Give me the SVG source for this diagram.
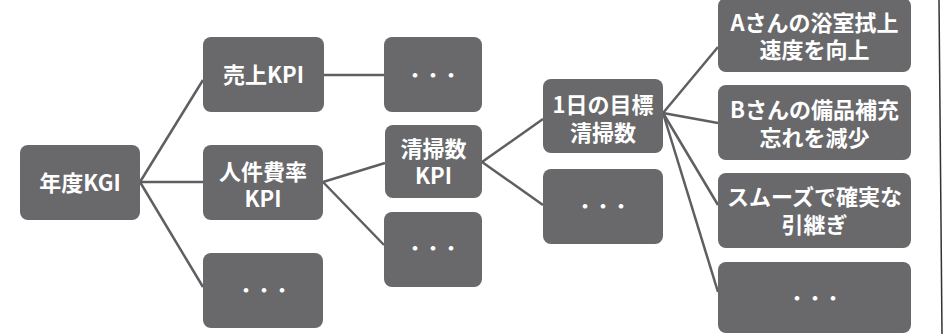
<svg xmlns="http://www.w3.org/2000/svg" width="944" height="334" viewBox="0 0 944 334">
<style>
.box{fill:#69696c}
.t{fill:#fff;font-family:"Noto Sans CJK JP","Noto Sans",sans-serif;font-weight:700;font-size:22px;text-anchor:middle}
.d{fill:#fff;font-family:"Noto Sans CJK JP",sans-serif;font-weight:700;font-size:18px;text-anchor:middle}
.c line{stroke:#5f5f62;stroke-width:2.5;fill:none}
</style>
<rect width="944" height="334" fill="#fff"/>
<line x1="939" y1="0" x2="942" y2="334" stroke="#333" stroke-width="1.5"/>
<g class="c" id="connectors">
<line x1="140" y1="182" x2="203" y2="80"/>
<line x1="140" y1="182" x2="203" y2="182"/>
<line x1="140" y1="182" x2="203" y2="287"/>
<line x1="324" y1="75" x2="384" y2="75"/>
<line x1="323" y1="182" x2="385" y2="163"/>
<line x1="323" y1="182" x2="384" y2="245"/>
<line x1="482" y1="162" x2="543" y2="119"/>
<line x1="482" y1="162" x2="543" y2="205"/>
<line x1="663" y1="113" x2="718" y2="47"/>
<line x1="663" y1="113" x2="718" y2="123"/>
<line x1="663" y1="113" x2="718" y2="205"/>
<line x1="663" y1="113" x2="718" y2="292"/>
</g>
<g id="kgi"><rect class="box" x="20" y="145" width="120" height="75" rx="8"/><text class="t" x="80" y="190.5">年度KGI</text></g>
<g id="uriage"><rect class="box" x="203" y="37" width="121" height="75" rx="8"/><text class="t" x="263.5" y="82.5">売上KPI</text></g>
<g id="jinken"><rect class="box" x="203" y="145" width="120" height="75" rx="8"/><text class="t" x="263" y="180">人件費率</text><text class="t" x="263" y="207">KPI</text></g>
<g id="more1"><rect class="box" x="203" y="253" width="120" height="75" rx="8"/><text class="d" x="264" y="297">・・・</text></g>
<g id="more2"><rect class="box" x="384" y="37" width="98" height="75" rx="8"/><text class="d" x="433" y="82">・・・</text></g>
<g id="seisou"><rect class="box" x="385" y="125" width="97" height="73" rx="8"/><text class="t" x="433.5" y="157">清掃数</text><text class="t" x="433.5" y="184">KPI</text></g>
<g id="more3"><rect class="box" x="384" y="212" width="98" height="75" rx="8"/><text class="d" x="433" y="255">・・・</text></g>
<g id="daily"><rect class="box" x="543" y="79" width="120" height="74" rx="8"/><text class="t" x="603" y="113">1日の目標</text><text class="t" x="603" y="141">清掃数</text></g>
<g id="more4"><rect class="box" x="543" y="169" width="120" height="75" rx="8"/><text class="d" x="603" y="213">・・・</text></g>
<g id="a"><rect class="box" x="718" y="-2" width="193" height="74" rx="8"/><text class="t" x="814.5" y="30.5">Aさんの浴室拭上</text><text class="t" x="814.5" y="58">速度を向上</text></g>
<g id="b"><rect class="box" x="718" y="85" width="193" height="75" rx="8"/><text class="t" x="814.5" y="118">Bさんの備品補充</text><text class="t" x="814.5" y="146">忘れを減少</text></g>
<g id="smooth"><rect class="box" x="718" y="173" width="193" height="75" rx="8"/><text class="t" x="814.5" y="205">スムーズで確実な</text><text class="t" x="814.5" y="233">引継ぎ</text></g>
<g id="more5"><rect class="box" x="718" y="262" width="193" height="71" rx="8"/><text class="d" x="815" y="305">・・・</text></g>
</svg>
